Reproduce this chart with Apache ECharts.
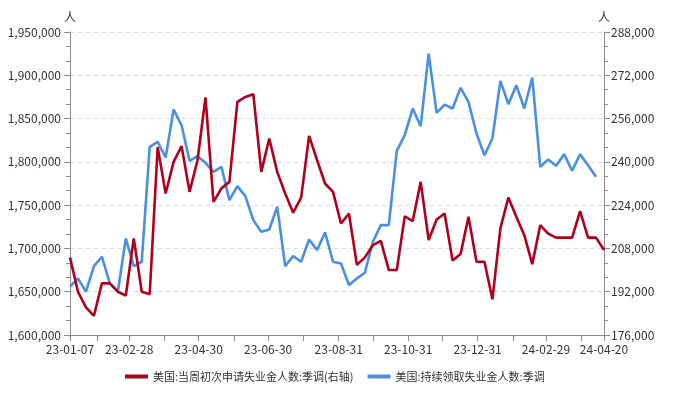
<!DOCTYPE html>
<html>
<head>
<meta charset="utf-8">
<script src="https://cdn.jsdelivr.net/npm/echarts@6/dist/echarts.min.js"></script>
<style>
html,body{margin:0;padding:0;background:#fff;}
#chart{width:679px;height:393px;}
</style>
</head>
<body>
<div id="chart"></div>
<script>
// Weekly dates (YY-MM-DD)
const weekDates = [
'23-01-07','23-01-14','23-01-21','23-01-28','23-02-04','23-02-11','23-02-18','23-02-25',
'23-03-04','23-03-11','23-03-18','23-03-25','23-04-01','23-04-08','23-04-15','23-04-22',
'23-04-29','23-05-06','23-05-13','23-05-20','23-05-27','23-06-03','23-06-10','23-06-17',
'23-06-24','23-07-01','23-07-08','23-07-15','23-07-22','23-07-29','23-08-05','23-08-12',
'23-08-19','23-08-26','23-09-02','23-09-09','23-09-16','23-09-23','23-09-30','23-10-07',
'23-10-14','23-10-21','23-10-28','23-11-04','23-11-11','23-11-18','23-11-25','23-12-02',
'23-12-09','23-12-16','23-12-23','23-12-30','24-01-06','24-01-13','24-01-20','24-01-27',
'24-02-03','24-02-10','24-02-17','24-02-24','24-03-02','24-03-09','24-03-16','24-03-23',
'24-03-30','24-04-06','24-04-13','24-04-20'
];

// 美国:当周初次申请失业金人数:季调 (right axis)
const initialClaims = [
204700,192000,186200,183100,195100,195100,192000,190600,
211700,192000,191100,245500,228300,240000,245800,228900,
240600,263800,225200,230200,232600,262200,264000,265000,
236300,248600,236300,228300,221200,226800,249600,240600,
232000,228900,217200,220900,201900,204700,209200,210800,
200000,200000,219900,218100,232600,211100,218700,220900,
203500,205900,219700,203100,203100,189200,215400,226800,
219700,212900,202200,216600,213500,212000,212000,212000,
221800,212000,212000,207400
];

// 美国:持续领取失业金人数:季调 (left axis)
const continuingClaims = [
1655800,1665400,1650000,1679600,1690400,1659600,1650000,1711500,
1679600,1684600,1817300,1823100,1805000,1860400,1842300,1801200,
1806600,1798900,1788500,1794300,1755800,1772000,1760400,1732700,
1719200,1721900,1748100,1679600,1691200,1684600,1710400,1698100,
1718500,1684600,1682700,1657700,1665400,1671900,1707700,1726900,
1726900,1812700,1830800,1861600,1841200,1925000,1856600,1866200,
1861600,1885400,1869300,1832700,1807700,1827000,1893500,1866600,
1888500,1861600,1897400,1794300,1802700,1795400,1808900,1789700,
1808900,1796200,1782700
];

// X-axis labels and intermediate (month-end) ticks
const xTickLabels = ['23-01-07','23-02-28','23-04-30','23-06-30','23-08-31','23-10-31','23-12-31','24-02-29','24-04-20'];
const xMidTicks = ['23-01-31','23-03-31','23-05-31','23-07-31','23-09-30','23-11-30','24-01-31','24-03-31'];

const seriesNames = ['美国:当周初次申请失业金人数:季调(右轴)','美国:持续领取失业金人数:季调'];
const unitName = '人';

// Daily category axis from first to last date
function pad(n){return (n<10?'0':'')+n;}
const dayCats = [];
(function(){
  const d = new Date(Date.UTC(2023,0,7));
  const end = Date.UTC(2024,3,20);
  while (d.getTime() <= end) {
    dayCats.push(String(d.getUTCFullYear()).slice(2)+'-'+pad(d.getUTCMonth()+1)+'-'+pad(d.getUTCDate()));
    d.setUTCDate(d.getUTCDate()+1);
  }
})();
const labelSet = new Set(xTickLabels);
const tickSet = new Set(xTickLabels.concat(xMidTicks));

const redData = initialClaims.map((v,i)=>[weekDates[i], v]);
const blueData = continuingClaims.map((v,i)=>[weekDates[i], v]);

const fontFam = '"Microsoft YaHei","Noto Sans CJK SC","Noto Sans",sans-serif';
const axisColor = '#8c8c8c';
const textColor = '#333';

const chart = echarts.init(document.getElementById('chart'), null, {renderer:'canvas'});
chart.setOption({
  animation:false,
  backgroundColor:'#fff',
  textStyle:{fontFamily:fontFam},
  grid:{left:70,right:75,top:32,bottom:58,containLabel:false},
  legend:{
    bottom:6,
    left:120,
    itemWidth:23,itemHeight:4,itemGap:14,
    icon:'rect',
    textStyle:{fontSize:11,color:textColor,fontFamily:fontFam},
    data:seriesNames
  },
  xAxis:{
    type:'category',
    data:dayCats,
    boundaryGap:false,
    axisLine:{lineStyle:{color:axisColor,width:1}},
    axisTick:{show:true,length:6,lineStyle:{color:axisColor},interval:function(i,v){return tickSet.has(v);}},
    axisLabel:{color:textColor,fontSize:12,margin:8,interval:function(i,v){return labelSet.has(v);},showMinLabel:true,showMaxLabel:true},
    splitLine:{show:false}
  },
  yAxis:[
    {
      type:'value',
      position:'left',
      min:1600000,max:1950000,interval:50000,
      name:unitName,nameLocation:'end',nameGap:9,
      nameTextStyle:{color:textColor,fontSize:12,align:'center'},
      axisLine:{show:true,lineStyle:{color:axisColor}},
      axisTick:{show:true,length:6,lineStyle:{color:axisColor}},
      minorTick:{show:true,splitNumber:3,length:4,lineStyle:{color:axisColor}},
      axisLabel:{color:textColor,fontSize:12,margin:9,formatter:function(v){return v.toLocaleString('en-US');}},
      splitLine:{show:true,lineStyle:{color:'#dcdcdc',type:[4,4]}}
    },
    {
      type:'value',
      position:'right',
      min:176000,max:288000,interval:16000,
      name:unitName,nameLocation:'end',nameGap:9,
      nameTextStyle:{color:textColor,fontSize:12,align:'center'},
      axisLine:{show:true,lineStyle:{color:axisColor}},
      axisTick:{show:true,length:6,lineStyle:{color:axisColor}},
      minorTick:{show:true,splitNumber:3,length:4,lineStyle:{color:axisColor}},
      axisLabel:{color:textColor,fontSize:12,margin:7,formatter:function(v){return v.toLocaleString('en-US');}},
      splitLine:{show:false}
    }
  ],
  series:[
    {
      name:seriesNames[0],type:'line',yAxisIndex:1,data:redData,
      showSymbol:false,symbol:'none',
      lineStyle:{color:'#B0001E',width:2.6},itemStyle:{color:'#B0001E'},z:3
    },
    {
      name:seriesNames[1],type:'line',yAxisIndex:0,data:blueData,
      showSymbol:false,symbol:'none',
      lineStyle:{color:'#4A90E2',width:2.6},itemStyle:{color:'#4A90E2'},z:2
    }
  ]
});
</script>
</body>
</html>
